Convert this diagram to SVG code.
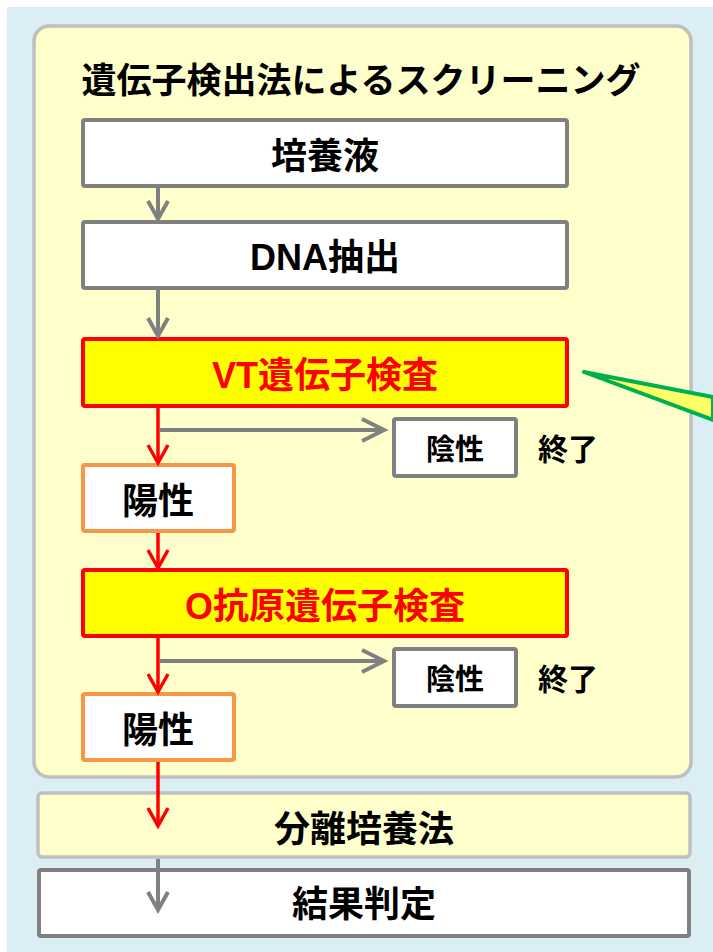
<svg xmlns="http://www.w3.org/2000/svg" width="713" height="952" viewBox="0 0 713 952">
  <style>
    text { font-family: "Liberation Sans", "Noto Sans CJK JP", sans-serif; font-weight: bold; text-anchor: middle; fill: #000; }
    .big { font-size: 36px; }
    .mid { font-size: 29px; }
    .red { fill: #FF0000; }
    .gbox { fill: #FFFFFF; stroke: #808080; stroke-width: 4; }
    .ybox { fill: #FFFF00; stroke: #FF0000; stroke-width: 4; }
    .obox { fill: #FFFFFF; stroke: #F79646; stroke-width: 4; }
    .gline { fill: none; stroke: #808080; stroke-width: 4; }
    .rline { fill: none; stroke: #FF0000; stroke-width: 3.5; }
  </style>
  <defs>
    <marker id="ag" markerUnits="userSpaceOnUse" markerWidth="40" markerHeight="40" refX="0" refY="0" orient="auto" overflow="visible">
      <path d="M-18,-10 L0,0 L-18,10" fill="none" stroke="#808080" stroke-width="4" stroke-linejoin="miter"/>
    </marker>
    <marker id="agh" markerUnits="userSpaceOnUse" markerWidth="40" markerHeight="40" refX="0" refY="0" orient="auto" overflow="visible">
      <path d="M-22,-11 L0,0 L-22,11" fill="none" stroke="#808080" stroke-width="4" stroke-linejoin="miter"/>
    </marker>
    <marker id="ar" markerUnits="userSpaceOnUse" markerWidth="40" markerHeight="40" refX="0" refY="0" orient="auto" overflow="visible">
      <path d="M-18,-10 L0,0 L-18,10" fill="none" stroke="#FF0000" stroke-width="3.5" stroke-linejoin="miter"/>
    </marker>
  </defs>

  <rect x="7" y="7" width="706" height="945" fill="#DBEEF4"/>

  <g id="panel">
    <rect x="34" y="26" width="657" height="751" rx="15" ry="15" fill="#FFFFCC" stroke="#BFBFBF" stroke-width="3.5"/>
    <text x="361" y="93" style="font-size:35px">遺伝子検出法によるスクリーニング</text>
  </g>

  <g id="callout">
    <polygon points="584,372 713,397 713,420" fill="#FFFF66" stroke="#00B050" stroke-width="4" stroke-linejoin="round"/>
  </g>

  <g id="n-baiyoueki">
    <rect class="gbox" x="83" y="120" width="484" height="66" rx="2"/>
    <text class="big" x="325" y="169">培養液</text>
  </g>
  <g id="n-dna">
    <rect class="gbox" x="83" y="222" width="484" height="66" rx="2"/>
    <text class="big" x="325" y="270">DNA抽出</text>
  </g>
  <g id="n-vt">
    <rect class="ybox" x="83" y="339" width="484" height="67" rx="2"/>
    <text class="big red" x="325" y="388">VT遺伝子検査</text>
  </g>
  <g id="n-neg1">
    <rect class="gbox" x="394" y="419" width="122" height="57" rx="2"/>
    <text class="mid" x="455" y="460">陰性</text>
  </g>
  <g id="t-end1">
    <text style="font-size:30px" x="568" y="460">終了</text>
  </g>
  <g id="n-pos1">
    <rect class="obox" x="83" y="465" width="151" height="66" rx="2"/>
    <text class="big" x="158" y="514">陽性</text>
  </g>
  <g id="n-o">
    <rect class="ybox" x="83" y="570" width="484" height="66" rx="2"/>
    <text class="big red" x="325" y="619">O抗原遺伝子検査</text>
  </g>
  <g id="n-neg2">
    <rect class="gbox" x="394" y="649" width="122" height="57" rx="2"/>
    <text class="mid" x="455" y="690">陰性</text>
  </g>
  <g id="t-end2">
    <text style="font-size:30px" x="568" y="690">終了</text>
  </g>
  <g id="n-pos2">
    <rect class="obox" x="83" y="694" width="151" height="66" rx="2"/>
    <text class="big" x="158" y="743">陽性</text>
  </g>
  <g id="n-bunri">
    <rect x="38" y="793" width="652" height="64" rx="4" fill="#FFFFCC" stroke="#BFBFBF" stroke-width="3.5"/>
    <text class="big" x="364" y="842">分離培養法</text>
  </g>
  <g id="n-kekka">
    <rect class="gbox" x="39" y="870" width="650" height="66" rx="2"/>
    <text class="big" x="364" y="917">結果判定</text>
  </g>

  <g id="connectors">
    <line class="gline" x1="158" y1="187" x2="158" y2="219" marker-end="url(#ag)"/>
    <line class="gline" x1="158" y1="289" x2="158" y2="336" marker-end="url(#ag)"/>
    <line class="rline" x1="158" y1="408" x2="158" y2="463" marker-end="url(#ar)"/>
    <line class="gline" x1="160" y1="430" x2="384" y2="430" marker-end="url(#agh)"/>
    <line class="rline" x1="158" y1="533" x2="158" y2="568" marker-end="url(#ar)"/>
    <line class="rline" x1="158" y1="638" x2="158" y2="692" marker-end="url(#ar)"/>
    <line class="gline" x1="160" y1="661" x2="384" y2="661" marker-end="url(#agh)"/>
    <line class="rline" x1="158" y1="762" x2="158" y2="826" marker-end="url(#ar)"/>
    <line class="gline" x1="158" y1="859" x2="158" y2="910" marker-end="url(#ag)"/>
  </g>
</svg>
